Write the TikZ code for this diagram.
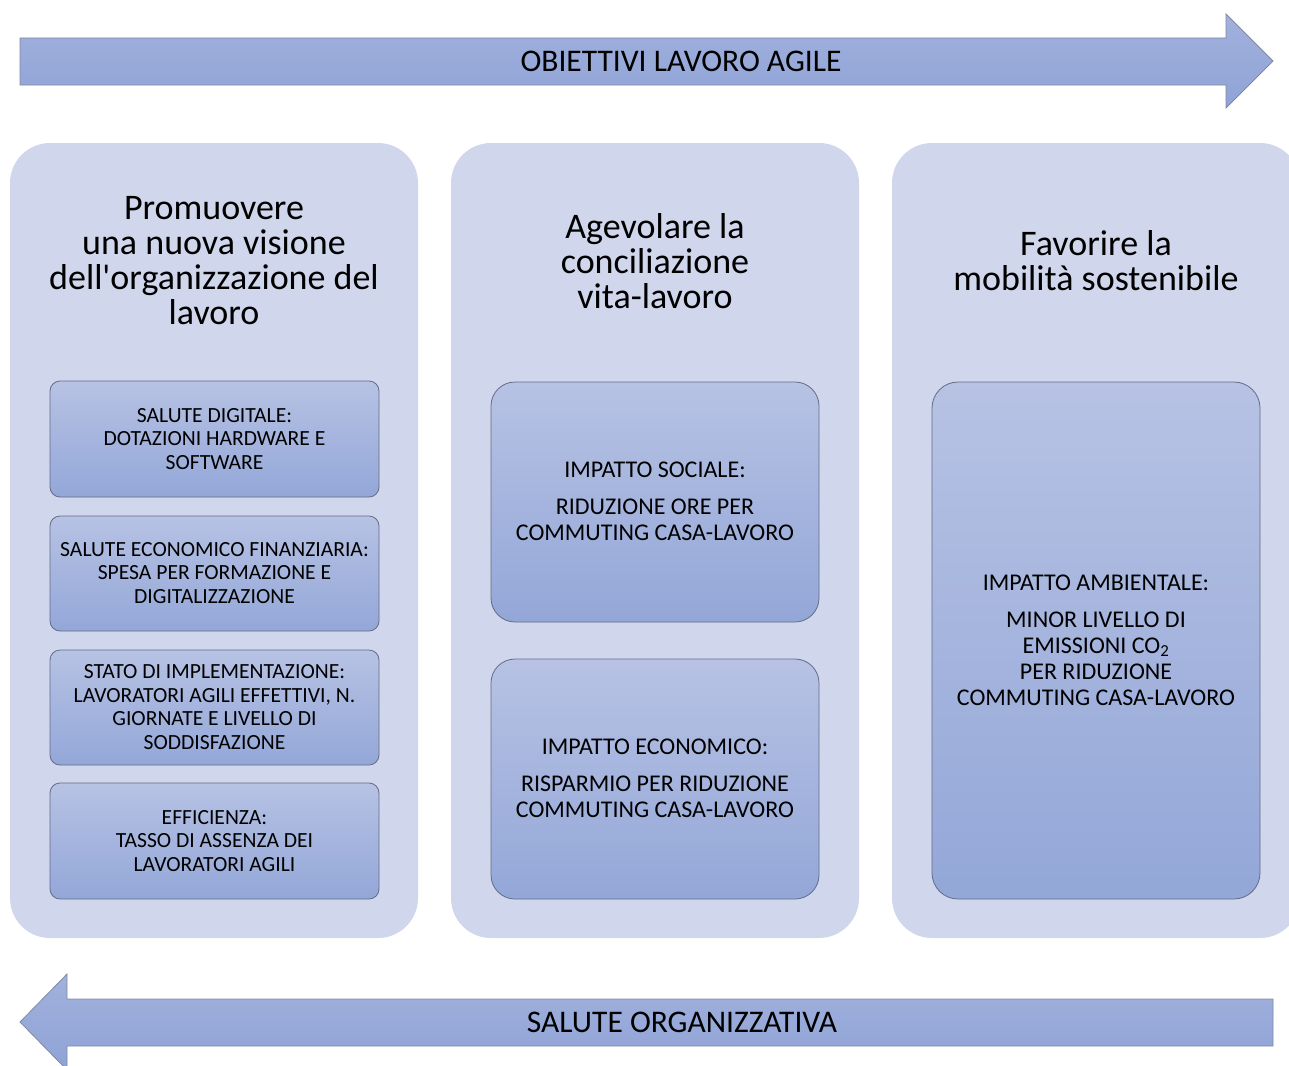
\documentclass[tikz,border=0pt]{standalone}
\usepackage{fontspec}
\setmainfont{Carlito}

\definecolor{sfondo}{RGB}{208,214,235}
\definecolor{bordo}{RGB}{100,108,135}
\definecolor{chiaro}{RGB}{183,194,228}
\definecolor{scuro}{RGB}{147,167,216}
\definecolor{frecciasu}{RGB}{162,177,221}
\definecolor{frecciagiu}{RGB}{142,163,214}

\begin{document}
\begin{tikzpicture}[x=1pt, y=-1pt]
	\useasboundingbox (0,0) rectangle (1289,1065);
	
	\tikzset{colonna/.style = {fill=sfondo, rounded corners=40pt}};
	\tikzset{riquadro/.style = {draw=bordo, line width=0.8pt, top color=chiaro, bottom color=scuro, rounded corners=#1}};
	\tikzset{freccia/.style = {draw=bordo!80, line width=0.8pt, top color=frecciasu, bottom color=frecciagiu}};
	\tikzset{titolo/.style = {align=center, font=\fontsize{36}{35}\selectfont}};
	\tikzset{voce/.style = {align=center, font=\fontsize{21.6}{23.5}\selectfont}};
	\tikzset{impatto/.style = {align=center, font=\fontsize{24}{26}\selectfont}};
	
	%Frecce
	\draw[freccia] (20,38) -- (1226,38) -- (1226,14) -- (1273,61) -- (1226,108) -- (1226,85) -- (20,85) -- cycle;
	\node[font=\fontsize{31.5}{34}\selectfont] (obiettivi) at (681,61) {OBIETTIVI LAVORO AGILE};
	\draw[freccia] (1273,999) -- (67,999) -- (67,974) -- (20,1022) -- (67,1070) -- (67,1046) -- (1273,1046) -- cycle;
	\node[font=\fontsize{31.5}{34}\selectfont] (salute) at (682,1022) {SALUTE ORGANIZZATIVA};
	
	%Colonne
	\def\larg{408}
	\fill[colonna] (10,143) rectangle ++(\larg,795);
	\fill[colonna] (451,143) rectangle ++(\larg,795);
	\fill[colonna] (892,143) rectangle ++(\larg,795);
	
	%Titoli
	\node[titolo] (promuovere) at (214,261) {Promuovere\\una nuova visione\\dell\textquotesingle organizzazione del\\lavoro};
	\node[titolo] (agevolare) at (655,261) {Agevolare la\\conciliazione\\vita-lavoro};
	\node[titolo] (favorire) at (1096,261) {Favorire la\\mobilità sostenibile};
	
	%Colonna 1
	\draw[riquadro=10pt] (50,381) rectangle (379,497);
	\node[voce] (digitale) at (214.5,439) {SALUTE DIGITALE:\\DOTAZIONI HARDWARE E\\SOFTWARE};
	\draw[riquadro=10pt] (50,516) rectangle (379,631);
	\node[voce] (economico) at (214.5,573) {SALUTE ECONOMICO FINANZIARIA:\\SPESA PER FORMAZIONE E\\DIGITALIZZAZIONE};
	\draw[riquadro=10pt] (50,650) rectangle (379,765);
	\node[voce] (stato) at (214.5,707) {STATO DI IMPLEMENTAZIONE:\\LAVORATORI AGILI EFFETTIVI, N.\\GIORNATE E LIVELLO DI\\SODDISFAZIONE};
	\draw[riquadro=10pt] (50,783) rectangle (379,899);
	\node[voce] (efficienza) at (214.5,841) {EFFICIENZA:\\TASSO DI ASSENZA DEI\\LAVORATORI AGILI};
	
	%Colonna 2
	\draw[riquadro=24pt] (491,382) rectangle (819,622);
	\node[impatto] (sociale) at (655,501) {IMPATTO SOCIALE:\\[11pt]RIDUZIONE ORE PER\\COMMUTING CASA-LAVORO};
	\draw[riquadro=24pt] (491,659) rectangle (819,899);
	\node[impatto] (ecorisparmio) at (655,778) {IMPATTO ECONOMICO:\\[11pt]RISPARMIO PER RIDUZIONE\\COMMUTING CASA-LAVORO};
	
	%Colonna 3
	\draw[riquadro=26pt] (932,382) rectangle (1260,899);
	\node[impatto] (ambientale) at (1096,640) {IMPATTO AMBIENTALE:\\[11pt]MINOR LIVELLO DI\\EMISSIONI CO\textsubscript{2}\\PER RIDUZIONE\\COMMUTING CASA-LAVORO};
\end{tikzpicture}
\end{document}
